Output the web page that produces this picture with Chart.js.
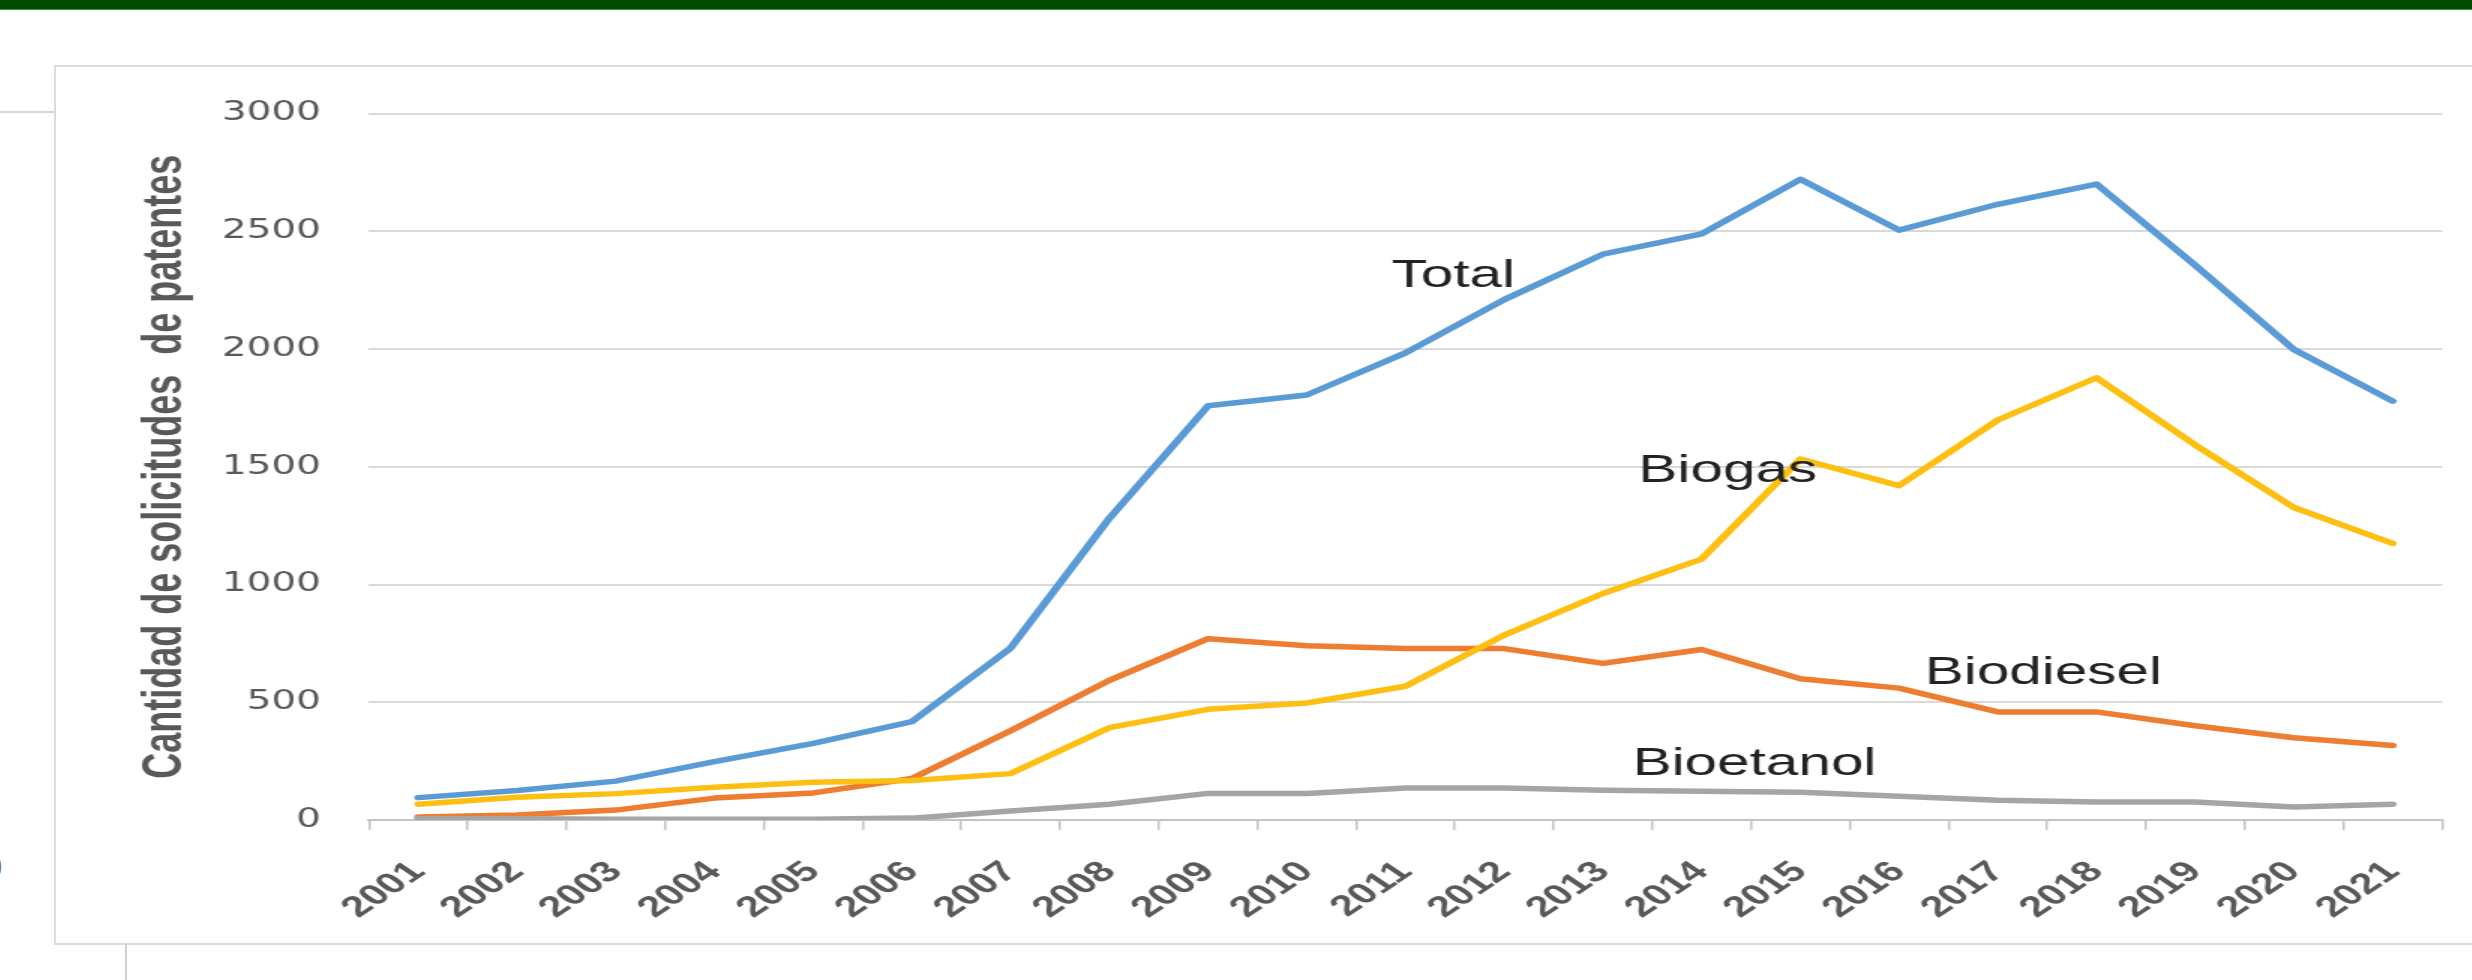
<!DOCTYPE html>
<html lang="es">
<head>
<meta charset="utf-8">
<title>Solicitudes de patentes por biocombustible</title>
<script src="https://cdn.jsdelivr.net/npm/chart.js@4.4.1/dist/chart.umd.min.js"></script>
<style>
  html, body { margin: 0; padding: 0; background: #fff; }
  body { width: 2472px; height: 980px; overflow: hidden; position: relative; }
  #topBar { position: absolute; left: 0; top: 0; width: 100%; height: 9px; background: #004b00; border-bottom: 1px solid #4c8a4c; }
  #sideRule { position: absolute; left: 0; top: 111px; width: 55px; height: 2px; background: #d6d6d6; }
  #chartBox { position: absolute; left: 54px; top: 65px; width: 2500px; height: 876px; border: 2px solid #dcdcdc; }
  #stem { position: absolute; left: 125px; top: 943px; width: 2px; height: 40px; background: #d0d0d0; }
  #edgeDigit { position: absolute; left: -16px; top: 850px; font: 30px "DejaVu Sans", sans-serif; color: #777; }
  /* the chart is drawn narrow and widened 1.5x */
  #chartWrap { position: absolute; left: 55px; top: 66px; width: 1608px; height: 877px; transform: scaleX(1.5); transform-origin: 0 0; }
</style>
</head>
<body>
<div id="topBar"></div>
<div id="sideRule"></div>
<div id="chartBox"></div>
<div id="stem"></div>
<div id="edgeDigit">0</div>
<div id="chartWrap"><canvas id="patentChart" width="1608" height="877"></canvas></div>
<script>
const years = ['2001', '2002', '2003', '2004', '2005', '2006', '2007', '2008', '2009', '2010', '2011',
               '2012', '2013', '2014', '2015', '2016', '2017', '2018', '2019', '2020', '2021'];
const totalValues = [95, 125, 165, 248, 325, 418, 730, 1281, 1759, 1805, 1984, 2210, 2403, 2489, 2721, 2505, 2615, 2701, 2356, 1998, 1779];
const biogasValues = [67, 97, 112, 139, 160, 168, 197, 392, 470, 497, 568, 785, 962, 1108, 1533, 1420, 1699, 1878, 1593, 1327, 1175];
const biodieselValues = [13, 21, 42, 93, 115, 176, 379, 593, 770, 740, 728, 728, 665, 724, 600, 560, 459, 459, 400, 349, 316];
const bioetanolValues = [5, 5, 3, 3, 3, 8, 38, 67, 113, 113, 136, 136, 126, 122, 118, 101, 84, 76, 76, 55, 67];
const yTicks = [0, 500, 1000, 1500, 2000, 2500, 3000];

// names written next to each line (x = category index, y = value at the baseline)
const seriesNotes = [
    { text: 'Total', at: 9.86, value: 2264 },
    { text: 'Biogas', at: 12.36, value: 1435 },
    { text: 'Biodiesel', at: 15.26, value: 576 },
    { text: 'Bioetanol', at: 12.3, value: 189 }
];

const seriesNotesPlugin = {
    id: 'seriesNotes',
    afterDatasetsDraw(chart) {
        const ctx = chart.ctx;
        const xScale = chart.scales.x;
        const yScale = chart.scales.y;
        ctx.save();
        ctx.font = '39px "Liberation Sans", Arial, sans-serif';
        ctx.fillStyle = '#222222';
        ctx.textAlign = 'left';
        ctx.textBaseline = 'alphabetic';
        seriesNotes.forEach(function (note) {
            ctx.fillText(note.text, xScale.getPixelForValue(note.at), yScale.getPixelForValue(note.value));
        });
        ctx.restore();
    }
};

function lineSet(label, data, color) {
    return {
        label: label,
        data: data,
        borderColor: color,
        backgroundColor: color,
        borderWidth: 5.5,
        pointRadius: 0,
        tension: 0,
        borderJoinStyle: 'round',
        borderCapStyle: 'round',
        fill: false
    };
}

const canvas = document.getElementById('patentChart');

new Chart(canvas, {
    type: 'line',
    data: {
        labels: years,
        datasets: [
            lineSet('Total', totalValues, '#5b9bd5'),
            lineSet('Biogas', biogasValues, '#fcbf12'),
            lineSet('Bioetanol', bioetanolValues, '#a5a5a5'),
            lineSet('Biodiesel', biodieselValues, '#ed7d31')
        ]
    },
    options: {
        responsive: false,
        animation: false,
        devicePixelRatio: 1,
        layout: {
            padding: { top: 41, right: 0, bottom: 0, left: 0 }
        },
        plugins: {
            legend: { display: false },
            tooltip: { enabled: false }
        },
        scales: {
            x: {
                offset: true,
                afterFit: function (scale) { scale.height = 123; },
                grid: {
                    offset: true,
                    drawOnChartArea: false,
                    drawTicks: true,
                    tickLength: 10,
                    color: '#c4c4c4',
                    lineWidth: 1.5
                },
                border: { color: '#c4c4c4', width: 2 },
                ticks: {
                    autoSkip: false,
                    minRotation: 45,
                    maxRotation: 45,
                    padding: 25,
                    color: '#595959',
                    font: { family: '"Liberation Sans", Arial, sans-serif', size: 29, weight: 'bold' }
                }
            },
            y: {
                min: yTicks[0],
                max: yTicks[yTicks.length - 1],
                afterFit: function (scale) { scale.width = 209.3; },
                grid: {
                    color: '#d9d9d9',
                    lineWidth: 2,
                    drawTicks: false
                },
                border: { display: false },
                ticks: {
                    stepSize: yTicks[1] - yTicks[0],
                    padding: 32,
                    color: '#595959',
                    font: { family: '"DejaVu Sans", Verdana, sans-serif', size: 26 },
                    callback: function (value) { return String(value); }
                },
                title: {
                    display: true,
                    text: 'Cantidad de solicitudes  de patentes',
                    color: '#595959',
                    padding: { top: 52, bottom: 0 },
                    font: { family: '"Liberation Sans", Arial, sans-serif', size: 36, weight: 'bold' }
                }
            }
        }
    },
    plugins: [seriesNotesPlugin]
});
</script>
</body>
</html>
